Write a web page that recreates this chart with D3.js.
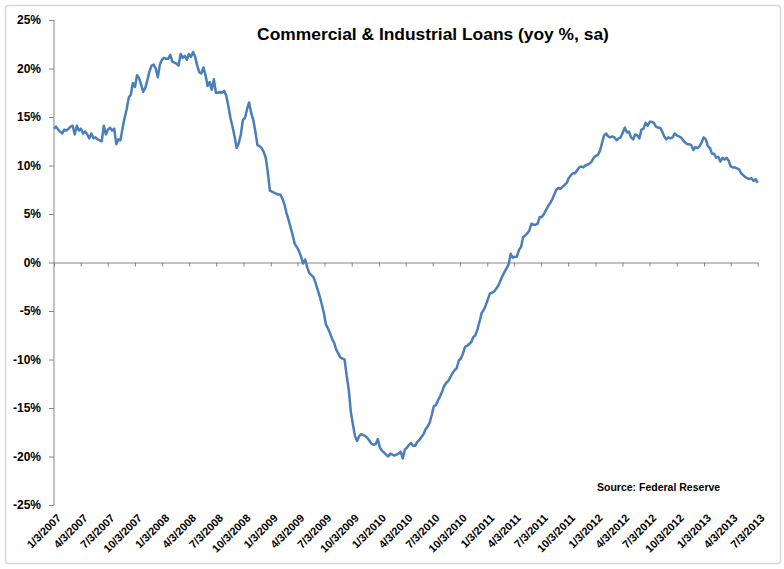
<!DOCTYPE html>
<html>
<head>
<meta charset="utf-8">
<script src="https://cdn.jsdelivr.net/npm/d3@7/dist/d3.min.js"></script>
<style>
  html, body { margin: 0; padding: 0; background: #ffffff; }
  svg { display: block; }
  text { font-family: "Liberation Sans", Arial, sans-serif; font-weight: bold; fill: #000; }
</style>
</head>
<body>
<svg id="chart" width="784" height="569"></svg>
<script>
// ---- Data ----
const chartTitle = "Commercial & Industrial Loans (yoy %, sa)";
const sourceNote = "Source: Federal Reserve";
const seriesStart = "2007-01-03"; // weekly observations (Wednesdays)
const yoyValues = [
  13.8,14.0,13.7,13.5,13.3,13.7,13.6,13.8,14.0,14.1,13.2,14.1,13.6,13.8,13.3,13.5,13.2,12.8,13.3,12.8,
  12.9,12.7,12.6,12.5,14.1,13.2,13.7,13.9,13.6,13.8,12.2,12.7,12.6,13.8,14.9,15.8,17.0,17.3,18.5,18.1,
  19.3,19.0,18.3,17.6,18.0,18.8,19.7,20.3,20.4,20.0,19.1,20.4,20.9,21.1,21.0,21.0,21.4,20.7,20.6,20.5,
  20.3,21.5,21.1,21.3,20.9,21.5,21.2,21.7,21.2,20.3,19.6,19.5,20.1,19.3,18.2,18.6,17.8,18.9,17.5,17.5,
  17.6,17.5,17.7,17.2,16.1,14.9,14.0,13.0,11.8,12.3,13.2,14.7,14.9,15.8,16.5,15.4,14.7,13.5,12.1,12.0,
  11.8,11.4,10.8,9.3,7.4,7.3,7.2,7.1,7.0,7.0,6.6,6.0,5.1,4.4,3.6,2.8,1.9,1.6,1.2,0.6,
  -0.1,0.3,-0.5,-1.1,-1.3,-1.5,-2.1,-2.8,-3.5,-4.3,-5.2,-6.4,-6.8,-7.3,-7.9,-8.3,-9.0,-9.4,-9.8,-9.9,
  -10.0,-11.7,-13.1,-15.4,-16.7,-17.9,-18.4,-17.9,-17.7,-17.8,-17.9,-18.1,-18.4,-18.7,-18.8,-18.7,-18.2,-19.1,-19.4,-19.6,
  -19.8,-20.0,-19.7,-19.8,-19.9,-19.8,-19.7,-19.5,-20.2,-19.3,-19.1,-18.8,-18.6,-18.9,-18.9,-18.5,-18.3,-18.0,-17.7,-17.2,
  -16.9,-16.5,-15.7,-14.8,-14.7,-14.2,-13.8,-13.3,-12.7,-12.4,-12.2,-11.8,-11.4,-11.1,-10.9,-10.1,-9.9,-9.4,-8.7,-8.6,
  -8.4,-8.2,-7.7,-7.5,-6.9,-6.1,-5.2,-4.9,-4.4,-3.8,-3.2,-3.1,-3.0,-2.7,-2.4,-1.9,-1.4,-1.0,-0.6,-0.2,
  0.9,0.5,0.6,0.6,1.3,1.6,2.6,2.8,3.0,3.3,4.0,3.9,3.9,4.0,4.7,4.7,5.0,5.4,5.8,6.1,
  6.5,7.0,7.5,7.7,7.6,7.8,8.0,8.2,8.7,9.0,9.2,9.2,9.5,9.8,9.9,9.8,10.0,10.1,10.2,10.4,
  10.8,11.0,11.1,11.5,12.3,13.1,13.3,13.0,12.9,13.0,12.9,12.6,12.8,12.9,13.4,13.9,13.4,13.5,12.9,12.7,
  13.2,13.1,12.8,13.7,13.8,14.4,14.1,14.5,14.5,14.4,14.0,13.9,13.9,13.5,13.0,12.7,12.9,12.8,12.9,13.3,
  13.1,13.0,12.9,12.6,12.4,12.2,12.2,12.1,11.6,11.9,11.8,12.0,12.4,12.9,12.7,12.0,11.8,11.2,11.2,10.8,
  10.9,10.4,10.8,10.6,10.8,10.5,9.9,9.8,9.8,9.7,9.6,9.2,9.0,8.8,8.7,8.6,8.7,8.4,8.6,8.2
];
const xTickLabels = [
  "1/3/2007","4/3/2007","7/3/2007","10/3/2007",
  "1/3/2008","4/3/2008","7/3/2008","10/3/2008",
  "1/3/2009","4/3/2009","7/3/2009","10/3/2009",
  "1/3/2010","4/3/2010","7/3/2010","10/3/2010",
  "1/3/2011","4/3/2011","7/3/2011","10/3/2011",
  "1/3/2012","4/3/2012","7/3/2012","10/3/2012",
  "1/3/2013","4/3/2013","7/3/2013"
];
const yTickValues = [25,20,15,10,5,0,-5,-10,-15,-20,-25];

// ---- Build ----
const parseISO = d3.timeParse("%Y-%m-%d");
const parseMDY = d3.timeParse("%-m/%-d/%Y");
const start = parseISO(seriesStart);
const data = yoyValues.map((v, i) => ({ date: d3.timeWeek.offset(start, i), value: v }));
const tickDates = xTickLabels.map(s => parseMDY(s));

const svg = d3.select("#chart");

// outer chart frame
svg.append("rect")
  .attr("x", 5.5).attr("y", 5.5)
  .attr("width", 775).attr("height", 558)
  .attr("rx", 3)
  .attr("fill", "#fff")
  .attr("stroke", "#d9d9d9")
  .attr("stroke-width", 1.5);

const plot = { left: 54, right: 757.7, top: 20, bottom: 505 };

const x = d3.scaleTime()
  .domain([tickDates[0], tickDates[tickDates.length - 1]])
  .range([plot.left, plot.right]);
const y = d3.scaleLinear()
  .domain([-25, 25])
  .range([plot.bottom, plot.top]);

const axisColor = "#868686";

// Y axis
const yAxis = svg.append("g")
  .attr("transform", `translate(${plot.left},0)`)
  .call(d3.axisLeft(y).tickValues(yTickValues).tickFormat(d => d + "%").tickSize(5).tickPadding(8));
yAxis.select(".domain").attr("stroke", axisColor).attr("d", `M0,${y(25)}V${y(-25)}`);
yAxis.selectAll(".tick line").attr("stroke", axisColor);
yAxis.selectAll(".tick text")
  .attr("font-size", 12)
  .attr("font-family", "'Liberation Sans', Arial, sans-serif")
  .attr("font-weight", "bold")
  .attr("fill", "#000");

// X axis at zero
const xAxis = svg.append("g")
  .attr("transform", `translate(0,${y(0)})`)
  .call(d3.axisBottom(x).tickValues(tickDates).tickFormat("").tickSize(4).tickSizeOuter(0));
xAxis.select(".domain").attr("stroke", axisColor);
xAxis.selectAll(".tick line").attr("stroke", axisColor);

// X labels at bottom, rotated
svg.append("g")
  .selectAll("text")
  .data(tickDates)
  .join("text")
  .attr("transform", d => `translate(${x(d) + 5},516) rotate(-45)`)
  .attr("text-anchor", "end")
  .attr("dy", "0.35em")
  .attr("font-size", 11)
  .text((d, i) => xTickLabels[i]);

// Line
const line = d3.line()
  .x(d => x(d.date))
  .y(d => y(d.value));
svg.append("path")
  .datum(data)
  .attr("fill", "none")
  .attr("stroke", "#4a7ebb")
  .attr("stroke-width", 2.5)
  .attr("stroke-linejoin", "round")
  .attr("d", line);

// Title
svg.append("text")
  .attr("x", 433).attr("y", 39.5)
  .attr("text-anchor", "middle")
  .attr("font-size", 17.4)
  .text(chartTitle);

// Source
svg.append("text")
  .attr("x", 597).attr("y", 491)
  .attr("font-size", 10.5)
  .text(sourceNote);
</script>
</body>
</html>
